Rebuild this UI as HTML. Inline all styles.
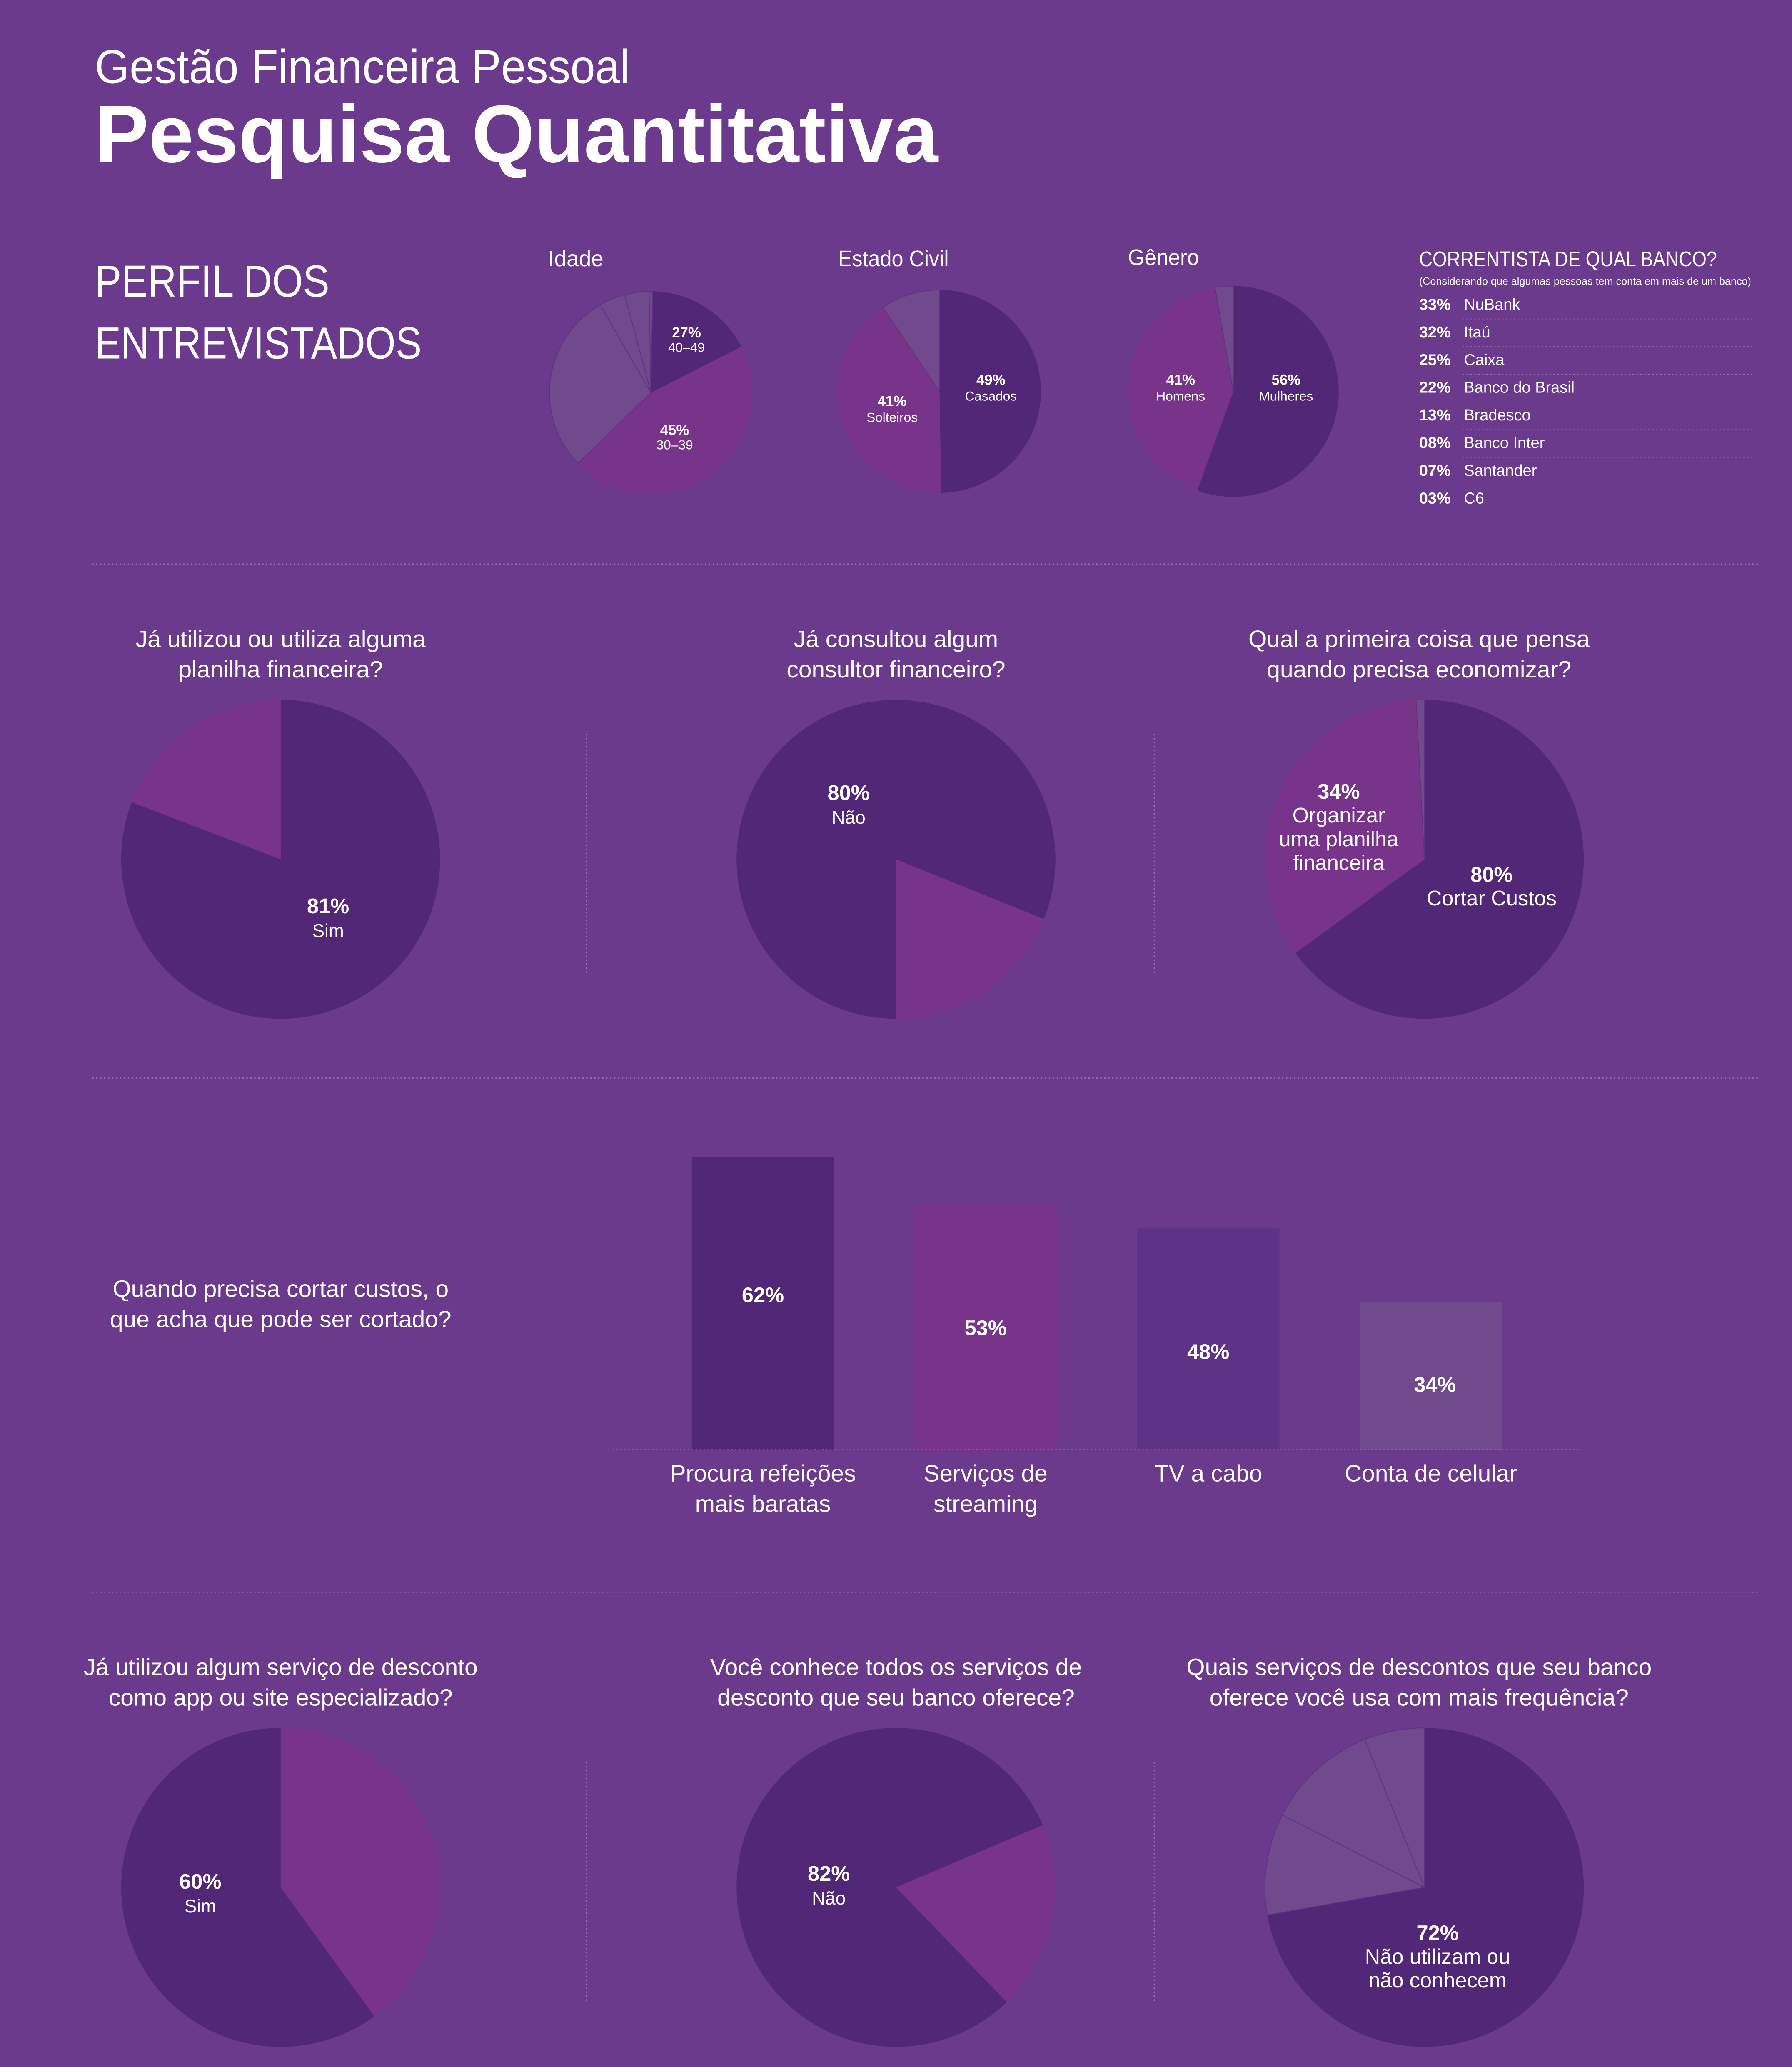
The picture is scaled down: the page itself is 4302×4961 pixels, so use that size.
<!DOCTYPE html>
<html><head><meta charset="utf-8"><style>
html,body{margin:0;padding:0;background:#6c3a8c;}
svg{display:block}
text{font-family:"Liberation Sans",sans-serif;fill:#fff}
.c{text-anchor:middle}
</style></head><body>
<svg id="s" xmlns="http://www.w3.org/2000/svg" width="4302" height="4961" viewBox="0 0 1360 1568.3">
<rect width="1360" height="1569" fill="#6c3a8c"/>
<g id="pies"></g>
<text x="72" y="63" font-size="36" textLength="406" lengthAdjust="spacingAndGlyphs" style="font-weight:300">Gestão Financeira Pessoal</text>
<text x="72" y="123" font-size="62" font-weight="bold" textLength="640" lengthAdjust="spacingAndGlyphs">Pesquisa Quantitativa</text>
<text x="72" y="225" font-size="34" textLength="178" lengthAdjust="spacingAndGlyphs">PERFIL DOS</text>
<text x="72" y="272" font-size="34" textLength="248" lengthAdjust="spacingAndGlyphs">ENTREVISTADOS</text>
<text x="416" y="202" font-size="17" textLength="42" lengthAdjust="spacingAndGlyphs">Idade</text>
<text x="636" y="202" font-size="17" textLength="84" lengthAdjust="spacingAndGlyphs">Estado Civil</text>
<text x="856" y="201" font-size="17" textLength="54" lengthAdjust="spacingAndGlyphs">Gênero</text>
<text x="1077" y="202" font-size="16" textLength="226" lengthAdjust="spacingAndGlyphs">CORRENTISTA DE QUAL BANCO?</text>
<text x="1077" y="216" font-size="8" textLength="252" lengthAdjust="spacingAndGlyphs">(Considerando que algumas pessoas tem conta em mais de um banco)</text>
<g font-size="11" class="c">
<text x="521" y="256" font-weight="bold">27%</text><text x="521" y="267" font-size="10">40–49</text>
<text x="512" y="330" font-weight="bold">45%</text><text x="512" y="341" font-size="10">30–39</text>
<text x="752" y="292" font-weight="bold">49%</text><text x="752" y="304" font-size="10">Casados</text>
<text x="677" y="308" font-weight="bold">41%</text><text x="677" y="320" font-size="10">Solteiros</text>
<text x="896" y="292" font-weight="bold">41%</text><text x="896" y="304" font-size="10">Homens</text>
<text x="976" y="292" font-weight="bold">56%</text><text x="976" y="304" font-size="10">Mulheres</text>
</g>
<g stroke="#9a7ab4" stroke-width="0.8" stroke-dasharray="1 2" fill="none">
<line x1="70" y1="428" x2="1335" y2="428"/><line x1="70" y1="818" x2="1335" y2="818"/><line x1="70" y1="1208" x2="1335" y2="1208"/>
<line x1="445" y1="557" x2="445" y2="740"/><line x1="876" y1="557" x2="876" y2="740"/>
<line x1="445" y1="1337" x2="445" y2="1520"/><line x1="876" y1="1337" x2="876" y2="1520"/>
</g>
<g font-size="18" class="c">
<text x="213" y="491">Já utilizou ou utiliza alguma</text><text x="213" y="514">planilha financeira?</text>
<text x="680" y="491">Já consultou algum</text><text x="680" y="514">consultor financeiro?</text>
<text x="1077" y="491">Qual a primeira coisa que pensa</text><text x="1077" y="514">quando precisa economizar?</text>
<text x="213" y="984">Quando precisa cortar custos, o</text><text x="213" y="1007">que acha que pode ser cortado?</text>
<text x="213" y="1271">Já utilizou algum serviço de desconto</text><text x="213" y="1294">como app ou site especializado?</text>
<text x="680" y="1271">Você conhece todos os serviços de</text><text x="680" y="1294">desconto que seu banco oferece?</text>
<text x="1077" y="1271">Quais serviços de descontos que seu banco</text><text x="1077" y="1294">oferece você usa com mais frequência?</text>
</g>
<g class="c">
<text x="249" y="693" font-size="16" font-weight="bold">81%</text><text x="249" y="711" font-size="14">Sim</text>
<text x="644" y="607" font-size="16" font-weight="bold">80%</text><text x="644" y="625" font-size="14">Não</text>
<text x="1016" y="606" font-size="16" font-weight="bold">34%</text>
<text x="1016" y="624" font-size="16">Organizar</text><text x="1016" y="642" font-size="16">uma planilha</text><text x="1016" y="660" font-size="16">financeira</text>
<text x="1132" y="669" font-size="16" font-weight="bold">80%</text><text x="1132" y="687" font-size="16">Cortar Custos</text>
<text x="152" y="1433" font-size="16" font-weight="bold">60%</text><text x="152" y="1451" font-size="14">Sim</text>
<text x="629" y="1427" font-size="16" font-weight="bold">82%</text><text x="629" y="1445" font-size="14">Não</text>
<text x="1091" y="1472" font-size="16" font-weight="bold">72%</text>
<text x="1091" y="1490" font-size="16">Não utilizam ou</text><text x="1091" y="1508" font-size="16">não conhecem</text>
</g>
<rect x="525" y="878" width="108" height="222" fill="#522778"/>
<rect x="694" y="915" width="108" height="185" fill="#77348a"/>
<rect x="863" y="932" width="108" height="168" fill="#5e3285"/>
<rect x="1032" y="988" width="108" height="112" fill="#704a8c"/>
<line x1="465" y1="1100" x2="1200" y2="1100" stroke="#9a7ab4" stroke-width="0.8" stroke-dasharray="1 2"/>
<g class="c" font-size="16" font-weight="bold">
<text x="579" y="988">62%</text><text x="748" y="1013">53%</text><text x="917" y="1031">48%</text><text x="1089" y="1056">34%</text>
</g>
<g class="c" font-size="18">
<text x="579" y="1124">Procura refeições</text><text x="579" y="1147">mais baratas</text>
<text x="748" y="1124">Serviços de</text><text x="748" y="1147">streaming</text>
<text x="917" y="1124">TV a cabo</text>
<text x="1086" y="1124">Conta de celular</text>
</g>
</svg>
<script>
var D="#522778",M="#77348a",L="#704a8c";
function arc(cx,cy,r,a0,a1,col){
 function p(a){a=a*Math.PI/180;return [cx+r*Math.sin(a),cy-r*Math.cos(a)];}
 var s=p(a0),e=p(a1),lg=(a1-a0)>180?1:0;
 var st=(col==L)?' stroke="#63307f" stroke-width="0.6"':'';
 return '<path d="M'+cx+' '+cy+' L'+s[0]+' '+s[1]+' A'+r+' '+r+' 0 '+lg+' 1 '+e[0]+' '+e[1]+' Z" fill="'+col+'"'+st+'/>';
}
var P=[
[494,298,77,[[1,63,D],[63,226,M],[226,330,L],[330,345,L],[345,359,L],[359,361,L]]],
[713,297,77,[[0,179,D],[179,326,M],[326,360,L]]],
[936,297,80,[[0,200,D],[200,350,M],[350,360,L]]],
[213,652,121,[[0,291,D],[291,360,M]]],
[680,652,121,[[0,112,D],[112,180,M],[180,360,D]]],
[1081,652,121,[[0,234,D],[234,357,M],[357,360,L]]],
[213,1432,121,[[0,144,M],[144,360,D]]],
[680,1432,121,[[0,67,D],[67,136,M],[136,360,D]]],
[1081,1432,121,[[0,260,D],[260,297,L],[297,338,L],[338,360,L]]]
];
var h="";P.forEach(function(q){q[3].forEach(function(s){h+=arc(q[0],q[1],q[2],s[0],s[1],s[2]);});});
document.getElementById("pies").innerHTML=h;
</script>
<svg style="position:absolute;left:0;top:0" width="4302" height="4961" viewBox="0 0 1360 1568.3">
<g font-family="Liberation Sans, sans-serif" fill="#fff" font-size="12">
<text x="1077" y="235" font-weight="bold">33%</text><text x="1111" y="235">NuBank</text>
<text x="1077" y="256" font-weight="bold">32%</text><text x="1111" y="256">Itaú</text>
<text x="1077" y="277" font-weight="bold">25%</text><text x="1111" y="277">Caixa</text>
<text x="1077" y="298" font-weight="bold">22%</text><text x="1111" y="298">Banco do Brasil</text>
<text x="1077" y="319" font-weight="bold">13%</text><text x="1111" y="319">Bradesco</text>
<text x="1077" y="340" font-weight="bold">08%</text><text x="1111" y="340">Banco Inter</text>
<text x="1077" y="361" font-weight="bold">07%</text><text x="1111" y="361">Santander</text>
<text x="1077" y="382" font-weight="bold">03%</text><text x="1111" y="382">C6</text>
</g>
<g stroke="#9a7ab4" stroke-width="0.5" stroke-dasharray="1 2">
<line x1="1110" y1="242" x2="1330" y2="242"/><line x1="1110" y1="263" x2="1330" y2="263"/><line x1="1110" y1="284" x2="1330" y2="284"/><line x1="1110" y1="305" x2="1330" y2="305"/><line x1="1110" y1="326" x2="1330" y2="326"/><line x1="1110" y1="347" x2="1330" y2="347"/><line x1="1110" y1="368" x2="1330" y2="368"/>
</g>
</svg>
</body></html>
